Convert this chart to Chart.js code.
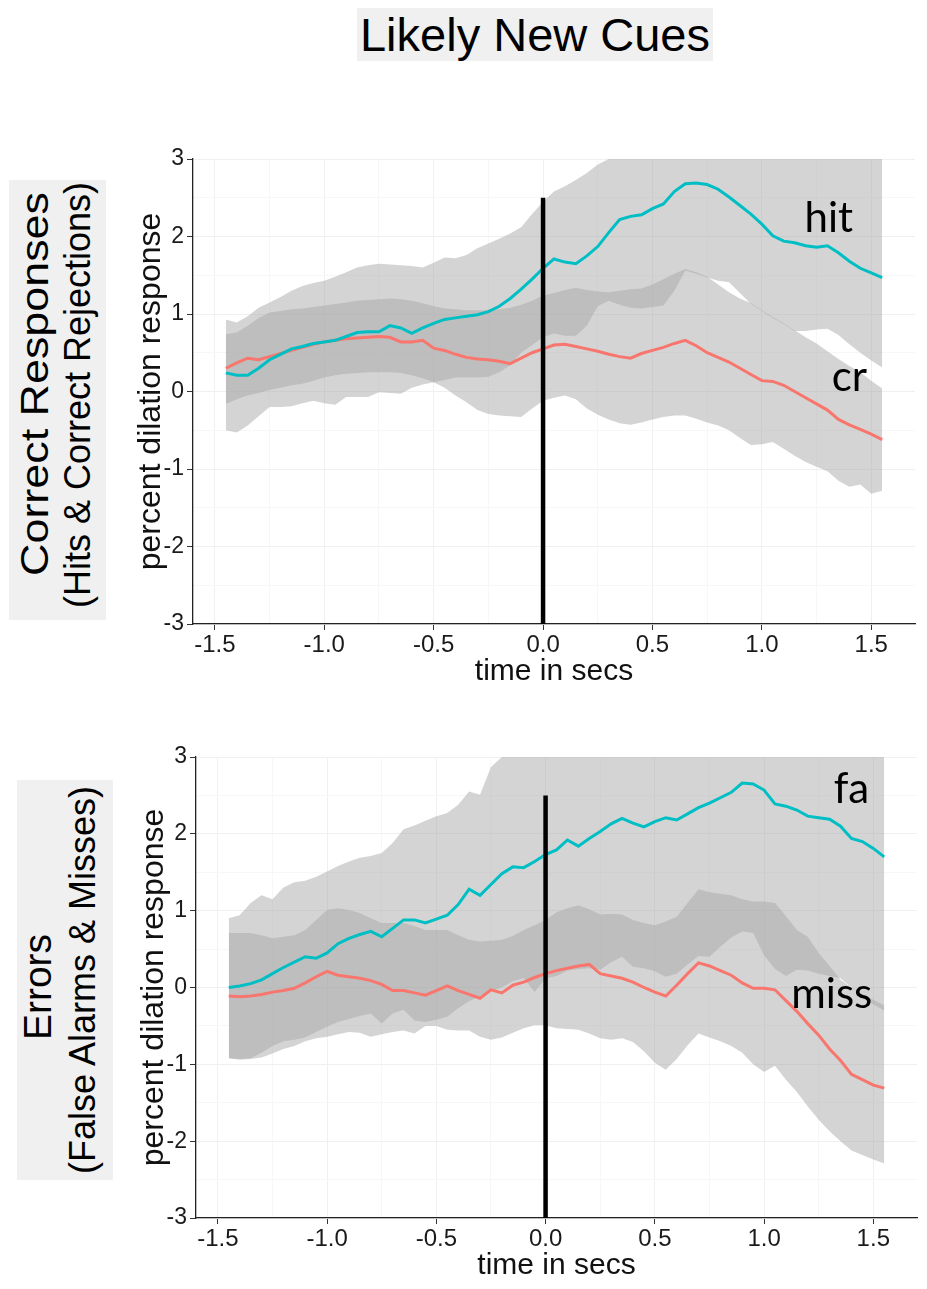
<!DOCTYPE html>
<html>
<head>
<meta charset="utf-8">
<script src="https://cdn.jsdelivr.net/npm/chart.js@4.4.1/dist/chart.umd.min.js"></script>
<style>
html,body{margin:0;padding:0;background:#fff;}
body{width:927px;height:1289px;position:relative;overflow:hidden;font-family:"Liberation Sans",Arial,sans-serif;}
.title{position:absolute;left:357px;top:8px;width:356px;height:53px;background:#f0f0f0;font-size:47px;line-height:53px;text-align:center;color:#000;white-space:nowrap;}
.box{position:absolute;background:#f0f0f0;}
.rot{position:absolute;white-space:nowrap;line-height:1;transform:translate(-50%,-50%) rotate(-90deg);color:#000;}
.wrap{position:absolute;left:0;width:927px;}
</style>
</head>
<body>
<div class="title">Likely New Cues</div>

<div class="box" style="left:9px;top:180px;width:97px;height:440px"></div>
<div class="rot" style="left:34px;top:384px;font-size:39px;transform:translate(-50%,-50%) rotate(-90deg) scaleX(1.15)">Correct Responses</div>
<div class="rot" style="left:78px;top:395px;font-size:36px">(Hits &amp; Correct Rejections)</div>

<div class="box" style="left:17px;top:780px;width:96px;height:400px"></div>
<div class="rot" style="left:37px;top:987px;font-size:39px">Errors</div>
<div class="rot" style="left:83px;top:980px;font-size:36px">(False Alarms &amp; Misses)</div>

<div class="wrap" style="top:120px;height:600px"><canvas id="c1"></canvas></div>
<div class="wrap" style="top:720px;height:569px"><canvas id="c2"></canvas></div>

<script>
// ---------------- DATA ----------------
const time = [
 -1.45,-1.40,-1.35,-1.30,-1.25,-1.20,-1.15,-1.10,-1.05,-1.00,
 -0.95,-0.90,-0.85,-0.80,-0.75,-0.70,-0.65,-0.60,-0.55,-0.50,
 -0.45,-0.40,-0.35,-0.30,-0.25,-0.20,-0.15,-0.10,-0.05,0.00,
 0.05,0.10,0.15,0.20,0.25,0.30,0.35,0.40,0.45,0.50,
 0.55,0.60,0.65,0.70,0.75,0.80,0.85,0.90,0.95,1.00,
 1.05,1.10,1.15,1.20,1.25,1.30,1.35,1.40,1.45,1.50,
 1.55];

// Correct responses panel
const hitMean = [
 0.24,0.21,0.21,0.30,0.41,0.48,0.55,0.58,0.62,0.64,
 0.66,0.71,0.76,0.77,0.77,0.85,0.82,0.75,0.82,0.88,
 0.93,0.95,0.97,0.99,1.03,1.10,1.20,1.32,1.45,1.59,
 1.71,1.67,1.65,1.75,1.87,2.05,2.22,2.26,2.28,2.36,
 2.42,2.58,2.68,2.69,2.67,2.61,2.51,2.40,2.29,2.16,
 2.01,1.94,1.92,1.88,1.86,1.88,1.79,1.68,1.59,1.53,
 1.47];
const hitUpper = [
 0.93,0.89,0.97,1.08,1.15,1.22,1.30,1.36,1.40,1.43,
 1.48,1.54,1.60,1.63,1.65,1.64,1.63,1.62,1.60,1.66,
 1.73,1.72,1.76,1.85,1.91,1.97,2.04,2.12,2.29,2.45,
 2.58,2.65,2.73,2.82,2.93,3.00,3.00,3.00,3.00,3.00,
 3.00,3.00,3.00,3.00,3.00,3.00,3.00,3.00,3.00,3.00,
 3.00,3.00,3.00,3.00,3.00,3.00,3.00,3.00,3.00,3.00,
 3.00];
const hitLower = [
 -0.50,-0.53,-0.44,-0.32,-0.20,-0.20,-0.19,-0.15,-0.12,-0.15,
 -0.17,-0.07,-0.07,-0.07,-0.01,-0.02,-0.03,0.05,0.09,0.12,
 0.15,0.18,0.18,0.18,0.19,0.25,0.34,0.50,0.60,0.70,
 0.75,0.72,0.72,0.85,1.10,1.17,1.12,1.08,1.07,1.09,
 1.11,1.30,1.56,1.52,1.47,1.43,1.41,1.27,1.13,1.04,
 0.95,0.87,0.78,0.78,0.80,0.81,0.73,0.61,0.50,0.40,
 0.31];
const crMean = [
 0.30,0.37,0.43,0.41,0.45,0.49,0.53,0.57,0.61,0.64,
 0.66,0.68,0.69,0.70,0.71,0.70,0.64,0.64,0.66,0.56,
 0.53,0.48,0.44,0.42,0.41,0.39,0.36,0.43,0.50,0.55,
 0.60,0.61,0.58,0.55,0.52,0.48,0.45,0.43,0.49,0.53,
 0.57,0.62,0.66,0.59,0.50,0.44,0.38,0.30,0.22,0.14,
 0.13,0.08,0.00,-0.08,-0.16,-0.24,-0.36,-0.43,-0.49,-0.55,
 -0.62];
const crUpper = [
 0.74,0.76,0.85,0.95,1.02,1.04,1.06,1.07,1.09,1.11,
 1.13,1.15,1.17,1.18,1.19,1.20,1.19,1.17,1.14,1.10,
 1.07,1.06,1.05,1.05,1.05,1.06,1.08,1.12,1.17,1.24,
 1.27,1.31,1.34,1.31,1.29,1.28,1.30,1.32,1.33,1.38,
 1.45,1.52,1.58,1.54,1.48,1.38,1.28,1.20,1.14,1.05,
 0.96,0.88,0.79,0.70,0.62,0.52,0.42,0.33,0.25,0.14,
 0.04];
const crLower = [
 -0.16,-0.10,-0.05,-0.02,0.02,0.05,0.08,0.10,0.14,0.18,
 0.21,0.23,0.24,0.25,0.25,0.25,0.24,0.21,0.17,0.12,
 0.05,-0.05,-0.14,-0.24,-0.29,-0.31,-0.32,-0.33,-0.22,-0.12,
 -0.08,-0.05,-0.10,-0.22,-0.30,-0.36,-0.41,-0.43,-0.40,-0.36,
 -0.33,-0.31,-0.31,-0.35,-0.40,-0.44,-0.50,-0.60,-0.69,-0.68,
 -0.65,-0.74,-0.83,-0.91,-0.97,-1.03,-1.15,-1.23,-1.20,-1.32,
 -1.28];

// Errors panel
const faMean = [
 0.00,0.02,0.05,0.10,0.18,0.26,0.33,0.40,0.38,0.45,
 0.57,0.64,0.69,0.73,0.66,0.77,0.88,0.88,0.84,0.89,
 0.94,1.08,1.28,1.20,1.34,1.48,1.57,1.56,1.64,1.73,
 1.79,1.92,1.84,1.94,2.03,2.13,2.20,2.14,2.09,2.16,
 2.21,2.18,2.26,2.34,2.40,2.47,2.54,2.66,2.65,2.57,
 2.39,2.36,2.31,2.23,2.21,2.19,2.10,1.94,1.90,1.81,
 1.70];
const faUpper = [
 0.90,0.94,1.10,1.20,1.15,1.30,1.37,1.39,1.44,1.51,
 1.58,1.64,1.69,1.71,1.75,1.88,2.06,2.11,2.17,2.23,
 2.27,2.38,2.55,2.51,2.87,3.00,3.00,3.00,3.00,3.00,
 3.00,3.00,3.00,3.00,3.00,3.00,3.00,3.00,3.00,3.00,
 3.00,3.00,3.00,3.00,3.00,3.00,3.00,3.00,3.00,3.00,
 3.00,3.00,3.00,3.00,3.00,3.00,3.00,3.00,3.00,3.00,
 3.00];
const faLower = [
 -0.92,-0.93,-0.92,-0.85,-0.76,-0.70,-0.68,-0.65,-0.58,-0.51,
 -0.45,-0.41,-0.37,-0.34,-0.47,-0.34,-0.29,-0.43,-0.45,-0.42,
 -0.38,-0.27,-0.18,-0.11,-0.05,0.00,0.08,0.12,-0.06,0.12,
 0.15,0.22,0.24,0.25,0.23,0.33,0.40,0.27,0.25,0.21,
 0.14,0.18,0.30,0.41,0.40,0.53,0.65,0.73,0.71,0.42,
 0.24,0.15,0.23,0.22,0.18,0.15,0.12,0.00,-0.12,-0.22,
 -0.30];
const missMean = [
 -0.11,-0.12,-0.11,-0.09,-0.06,-0.04,-0.01,0.06,0.14,0.21,
 0.16,0.14,0.12,0.09,0.04,-0.04,-0.04,-0.07,-0.10,-0.04,
 0.02,-0.04,-0.09,-0.14,-0.03,-0.07,0.03,0.07,0.13,0.18,
 0.22,0.25,0.28,0.30,0.18,0.15,0.12,0.07,0.00,-0.06,
 -0.11,0.03,0.18,0.32,0.28,0.22,0.16,0.06,-0.01,-0.01,
 -0.03,-0.17,-0.31,-0.47,-0.62,-0.80,-0.95,-1.13,-1.20,-1.27,
 -1.31];
const missUpper = [
 0.71,0.71,0.71,0.68,0.64,0.66,0.68,0.75,0.88,1.01,
 1.03,1.01,0.97,0.90,0.84,0.84,0.84,0.80,0.75,0.75,
 0.75,0.68,0.62,0.60,0.61,0.62,0.67,0.75,0.81,0.88,
 0.98,1.03,1.07,1.02,0.95,0.96,0.95,0.88,0.84,0.81,
 0.86,0.92,1.10,1.28,1.24,1.22,1.20,1.15,1.12,1.12,
 1.10,0.93,0.75,0.66,0.45,0.28,0.10,0.00,-0.09,-0.16,
 -0.23];
const missLower = [
 -0.92,-0.94,-0.93,-0.91,-0.86,-0.80,-0.76,-0.70,-0.66,-0.64,
 -0.61,-0.58,-0.59,-0.64,-0.61,-0.58,-0.56,-0.60,-0.50,-0.50,
 -0.55,-0.56,-0.56,-0.64,-0.68,-0.65,-0.59,-0.53,-0.49,-0.49,
 -0.53,-0.54,-0.55,-0.60,-0.66,-0.68,-0.66,-0.71,-0.83,-0.98,
 -1.07,-0.93,-0.75,-0.60,-0.65,-0.70,-0.76,-0.85,-1.00,-1.10,
 -1.02,-1.20,-1.36,-1.55,-1.72,-1.87,-2.00,-2.12,-2.18,-2.24,
 -2.29];

// ticks and text
const xTickValues = [-1.5,-1.0,-0.5,0.0,0.5,1.0,1.5];
const xTickLabels = ['-1.5','-1.0','-0.5','0.0','0.5','1.0','1.5'];
const yTickValues = [-3,-2,-1,0,1,2,3];
const yTickLabels = ['-3','-2','-1','0','1','2','3'];
const onsetTime = 0.0;
const onsetTop = 2.5;
const xTitle = 'time in secs';
const yTitle = 'percent dilation response';
const topNames = ['hit','cr'];
const bottomNames = ['fa','miss'];

// ---------------- RENDER ----------------
const AXIS_FONT = '"Liberation Sans", Arial, sans-serif';
const LABEL_FONT = 'Lato, "Open Sans", sans-serif';
const CYAN = '#00BFC4', RED = '#F8766D';
const BAND = 'rgba(167,167,167,0.49)';

function withMinor(vals){
  const out = [];
  for (let i = 0; i < vals.length; i++){
    out.push(vals[i]);
    if (i < vals.length - 1) out.push((vals[i] + vals[i+1]) / 2);
  }
  return out;
}
function isMajor(v, majors){ return majors.some(m => Math.abs(m - v) < 1e-6); }
function labelFor(v, majors, labels){
  const i = majors.findIndex(m => Math.abs(m - v) < 1e-6);
  return i >= 0 ? labels[i] : '';
}

const seriesLabels = {
  id: 'seriesLabels',
  afterDatasetsDraw(chart, args, opts){
    const {ctx} = chart, xs = chart.scales.x, ys = chart.scales.y;
    ctx.save();
    ctx.font = opts.size + 'px ' + LABEL_FONT;
    ctx.fillStyle = '#000';
    ctx.textAlign = 'center';
    ctx.textBaseline = 'alphabetic';
    (opts.items || []).forEach(it => {
      ctx.fillText(it.text, xs.getPixelForValue(it.x), ys.getPixelForValue(it.y));
    });
    ctx.restore();
  }
};

function pts(arr){ return time.map((t, i) => ({x: t, y: arr[i]})); }

function makeChart(id, A, B, pad, items){
  const lineDs = (arr, color) => ({data: pts(arr), borderColor: color, borderWidth: 3, pointRadius: 0, fill: false, tension: 0});
  const bandTop = arr => ({data: pts(arr), borderColor: 'rgba(0,0,0,0)', borderWidth: 0, pointRadius: 0, fill: '+1', backgroundColor: BAND, tension: 0});
  const bandBot = arr => ({data: pts(arr), borderColor: 'rgba(0,0,0,0)', borderWidth: 0, pointRadius: 0, fill: false, tension: 0});
  const xGrid = withMinor(xTickValues);
  const yGrid = withMinor(yTickValues);
  return new Chart(document.getElementById(id), {
    type: 'line',
    data: {
      datasets: [
        {data: [{x: onsetTime, y: onsetTop}, {x: onsetTime, y: yTickValues[0]}], borderColor: '#000', borderWidth: 4.5, pointRadius: 0, fill: false},
        lineDs(A.mean, CYAN),
        lineDs(B.mean, RED),
        bandTop(A.upper), bandBot(A.lower),
        bandTop(B.upper), bandBot(B.lower)
      ]
    },
    options: {
      responsive: true, maintainAspectRatio: false, animation: false,
      devicePixelRatio: 1,
      layout: {padding: pad},
      plugins: {legend: {display: false}, tooltip: {enabled: false}, seriesLabels: {items: items, size: 42}},
      scales: {
        x: {
          type: 'linear', min: -1.6, max: 1.7,
          afterBuildTicks: s => { s.ticks = xGrid.map(v => ({value: v})); },
          afterFit: s => { s.height = 70; },
          ticks: {autoSkip: false, maxRotation: 0, minRotation: 0, padding: 1, color: '#1a1a1a',
                  font: {family: AXIS_FONT, size: 24},
                  callback: v => labelFor(v, xTickValues, xTickLabels)},
          grid: {color: c => isMajor(c.tick.value, xTickValues) ? '#f0f0f0' : '#f7f7f7',
                 tickColor: c => isMajor(c.tick.value, xTickValues) ? '#333' : 'rgba(0,0,0,0)',
                 tickLength: 6, lineWidth: 1},
          border: {display: true, color: '#222', width: 1.3},
          title: {display: true, text: xTitle, color: '#111', font: {family: AXIS_FONT, size: 30}, padding: {top: 0, bottom: 4}}
        },
        y: {
          type: 'linear', min: -3, max: 3,
          afterBuildTicks: s => { s.ticks = yGrid.map(v => ({value: v})); },
          afterFit: s => { s.width = 93; },
          ticks: {autoSkip: false, padding: 3, color: '#1a1a1a',
                  font: {family: AXIS_FONT, size: 23},
                  callback: v => labelFor(v, yTickValues, yTickLabels)},
          grid: {color: c => isMajor(c.tick.value, yTickValues) ? '#f0f0f0' : '#f7f7f7',
                 tickColor: c => isMajor(c.tick.value, yTickValues) ? '#333' : 'rgba(0,0,0,0)',
                 tickLength: 6, lineWidth: 1},
          border: {display: true, color: '#222', width: 1.3},
          title: {display: true, text: yTitle, color: '#111', font: {family: AXIS_FONT, size: 32}, padding: {top: 32, bottom: 0}}
        }
      }
    },
    plugins: [seriesLabels]
  });
}

makeChart('c1',
  {mean: hitMean, upper: hitUpper, lower: hitLower},
  {mean: crMean, upper: crUpper, lower: crLower},
  {left: 100, right: 12, top: 39, bottom: 26},
  [{text: topNames[0], x: 1.306, y: 2.06}, {text: topNames[1], x: 1.40, y: 0.01}]);

makeChart('c2',
  {mean: faMean, upper: faUpper, lower: faLower},
  {mean: missMean, upper: missUpper, lower: missLower},
  {left: 103, right: 10, top: 37, bottom: 1},
  [{text: bottomNames[0], x: 1.40, y: 2.40}, {text: bottomNames[1], x: 1.31, y: -0.27}]);
</script>
</body>
</html>
